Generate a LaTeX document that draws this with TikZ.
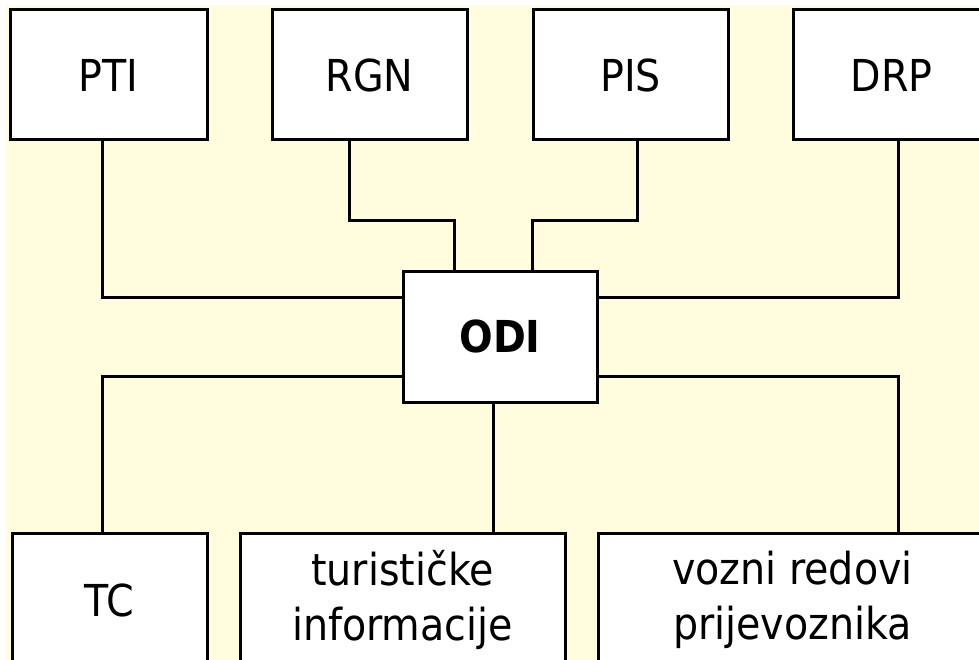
\documentclass[tikz,border=0pt]{standalone}
\usepackage{fontspec}
\setmainfont{DejaVu Sans Condensed}[BoldFont={DejaVu Sans Condensed Bold}]
\definecolor{bgyellow}{RGB}{255,253,222}

\begin{document}
\begin{tikzpicture}[x=1pt,y=-1pt,
  box/.style={draw,fill=white,line width=3pt,minimum height=130pt,
    align=center,font=\fontsize{44}{55}\selectfont},
  link/.style={line width=3pt}]
  \clip (0,0) rectangle (979,660);
  \fill[bgyellow] (6,5) rectangle (979,660);

  \node[box,minimum width=197pt] (PTI) at (108.5,75) {PTI};
  \node[box,minimum width=195pt] (RGN) at (369.5,75) {RGN};
  \node[box,minimum width=195pt] (PIS) at (630.5,75) {PIS};
  \node[box,minimum width=197pt] (DRP) at (891.5,75) {DRP};

  \node[box,minimum width=194pt,minimum height=131pt] (ODI) at (500,336.5) {\textbf{ODI}};

  \node[box,minimum width=195pt,minimum height=134pt] (TC) at (109.5,600) {TC};
  \node[box,minimum width=325pt,minimum height=134pt] (TurInfo) at (402.5,600) {turističke\\informacije};
  \node[box,minimum width=389pt,minimum height=134pt] (VozRed) at (792.5,600) {vozni redovi\\prijevoznika};

 \draw[link] ([xshift=-6]PTI.south) |- ([yshift=39]ODI.west);
 \draw[link] ([xshift=-20]RGN.south) -- ++(0,79) -| ([xshift=-46]ODI.north);
 \draw[link] ([xshift=6.5]PIS.south) -- ++(0,79) -| ([xshift=32]ODI.north);
 \draw[link] ([xshift=6.5]DRP.south) |- ([yshift=39]ODI.east);

 \draw[link] ([yshift=-40]ODI.west) -| ([xshift=-7]TC.north);
 \draw[link] ([xshift=-7]ODI.south) -- ([xshift=-7]ODI.south |- TurInfo.north);
 \draw[link] ([yshift=-40]ODI.east) -| ([xshift=105.5]VozRed.north);

\end{tikzpicture}
\end{document}
